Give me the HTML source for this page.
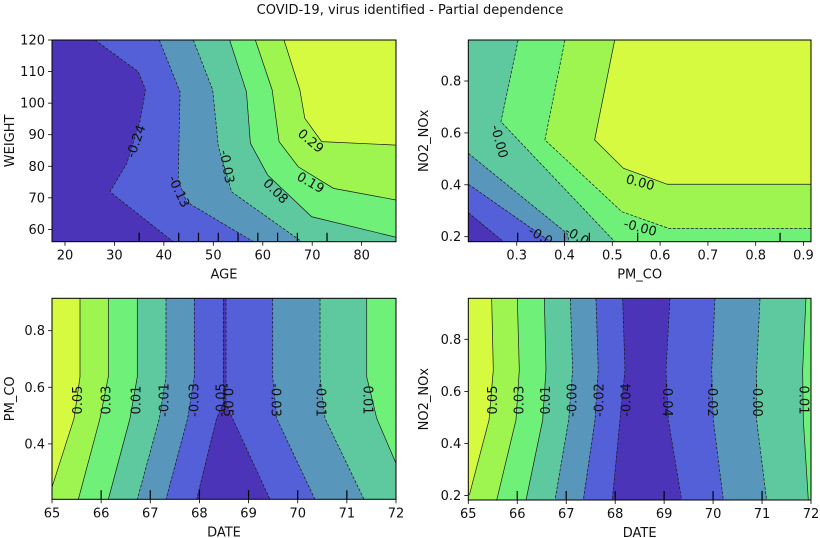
<!DOCTYPE html>
<html><head><meta charset="utf-8">
<style>
html,body{margin:0;padding:0;background:#fff;}
svg{display:block;font-family:"DejaVu Sans","Liberation Sans",sans-serif;}
</style></head>
<body>
<svg id="fig" width="820" height="538" viewBox="0 0 820 538" xmlns="http://www.w3.org/2000/svg">
<text x="410" y="14" text-anchor="middle" font-size="13" fill="#111">COVID-19, virus identified - Partial dependence</text>
</svg>
<script>
// colours for contour bands (low -> high)
const bandColors = ['#4b34b8','#5460d8','#5896bc','#5ec89f','#6ef079','#9ef54f','#d5fa40'];

// ---------- Panel 1: AGE vs WEIGHT ----------
const p1XTicks = [20,30,40,50,60,70,80];
const p1YTicks = [60,70,80,90,100,110,120];
const p1Rug = [35,43,47,51,55,59,63,67,73];
const p1Levels = ['-0.24','-0.13','-0.03','0.08','0.19','0.29'];
const p1Lines = [
  [[26.07,120],[34.83,109.96],[36.3,104.2],[35.2,94.6],[32.5,80.9],[29.1,71.9],[41.9,56.1]],
  [[39.07,120],[43.26,103.6],[42.9,75.6],[44.6,68.7],[58.1,56.1]],
  [[45.95,120],[49.87,104.2],[51.02,86.2],[53.7,71.9],[67.9,56.1]],
  [[53.3,120],[56.7,103.6],[57.5,87.3],[61.0,77.2],[69.9,64.0],[87,57.5]],
  [[58.5,120],[61.9,104.2],[63.3,87.8],[67.2,79.8],[74.3,73.0],[87,69.3]],
  [[64.3,120],[67.5,104.2],[68.5,95.2],[71.9,87.8],[87,86.7]]
];
const p1LabelAt = [[34.5,87.8],[42.9,71.9],[52.6,79.8],[62.5,71.9],[69.6,74.6],[69.6,87.8]];

// ---------- Panel 2: PM_CO vs NO2_NOx ----------
const p2XTicks = [0.3,0.4,0.5,0.6,0.7,0.8,0.9];
const p2YTicks = [0.2,0.4,0.6,0.8];
const p2Rug = [0.302,0.400,0.452,0.553,0.851];
const p2Levels = ['-0.0','-0.0','-0.0','-0.00','-0.00','0.00'];
const p2Lines = [
  [[0.199,0.292],[0.272,0.181]],
  [[0.199,0.402],[0.331,0.232],[0.370,0.181]],
  [[0.199,0.521],[0.405,0.213],[0.410,0.181]],
  [[0.303,0.958],[0.267,0.643],[0.505,0.181]],
  [[0.401,0.958],[0.359,0.573],[0.520,0.296],[0.618,0.232],[0.916,0.232]],
  [[0.505,0.958],[0.463,0.573],[0.523,0.464],[0.615,0.402],[0.916,0.402]]
];
const p2LabelAt = [null,[0.349,0.2],[0.425,0.2],[0.262,0.566],[0.558,0.232],[0.558,0.406]];

// ---------- Panel 3: DATE vs PM_CO ----------
const p3XTicks = [65,66,67,68,69,70,71,72];
const p3YTicks = [0.4,0.6,0.8];
const p3Rug = [66,67,68,69,70,71];
const p3LeftLevels = ['-0.05','-0.03','-0.01','0.01','0.03','0.05'];
const p3LeftLines = [
  [[68.486,0.914],[68.486,0.543],[68.350,0.490],[67.944,0.204]],
  [[67.896,0.914],[67.896,0.637],[67.761,0.490],[67.320,0.204]],
  [[67.320,0.914],[67.320,0.637],[67.184,0.490],[66.736,0.204]],
  [[66.736,0.914],[66.736,0.637],[66.587,0.490],[66.146,0.204]],
  [[66.146,0.914],[66.146,0.637],[65.977,0.490],[65.536,0.204]],
  [[65.570,0.914],[65.570,0.637],[65.448,0.490],[64.993,0.243]]
];
const p3RightLevels = ['-0.05','-0.03','-0.01','0.01'];
const p3RightLines = [
  [[68.541,0.914],[68.541,0.543],[68.690,0.484],[69.436,0.204]],
  [[69.491,0.914],[69.491,0.637],[69.572,0.490],[70.351,0.204]],
  [[70.454,0.914],[70.454,0.637],[70.556,0.490],[71.349,0.204]],
  [[71.404,0.914],[71.404,0.637],[71.608,0.490],[72.0,0.331]]
];
const p3LeftLabelX = [68.46,67.91,67.30,66.73,66.12,65.535];
const p3RightLabelX = [68.56,69.54,70.45,71.41];
const p3LabelY = 0.555;

// ---------- Panel 4: DATE vs NO2_NOx ----------
const p4XTicks = [65,66,67,68,69,70,71,72];
const p4YTicks = [0.2,0.4,0.6,0.8];
const p4Rug = [66,67,68,69,70,71];
const p4LeftLevels = ['-0.04','-0.02','-0.00','0.01','0.03','0.05'];
const p4LeftLines = [
  [[68.153,0.957],[68.201,0.682],[68.098,0.490],[67.942,0.183]],
  [[67.608,0.957],[67.655,0.682],[67.588,0.490],[67.350,0.183]],
  [[67.084,0.957],[67.131,0.682],[67.050,0.490],[66.771,0.183]],
  [[66.553,0.957],[66.587,0.682],[66.519,0.490],[66.179,0.183]],
  [[66.001,0.957],[66.042,0.682],[65.974,0.490],[65.580,0.183]],
  [[65.477,0.957],[65.511,0.682],[65.423,0.490],[65.021,0.202]]
];
const p4RightLevels = ['-0.04','-0.02','-0.00','0.01'];
const p4RightLines = [
  [[69.120,0.957],[69.038,0.682],[69.086,0.490],[69.358,0.183]],
  [[70.039,0.957],[69.971,0.682],[70.005,0.490],[70.209,0.183]],
  [[70.958,0.957],[70.889,0.682],[70.889,0.490],[71.094,0.183]],
  [[71.897,0.957],[71.829,0.682],[71.843,0.490],[71.945,0.183]]
];
const p4LeftLabelX = [68.24,67.69,67.14,66.60,66.06,65.51];
const p4RightLabelX = [69.05,69.97,70.89,71.84];
const p4LabelY = 0.567;

const NS = 'http://www.w3.org/2000/svg';
const svg = document.getElementById('fig');
function mk(tag, attrs, parent){
  const e = document.createElementNS(NS, tag);
  for (const k in attrs) e.setAttribute(k, attrs[k]);
  (parent||svg).appendChild(e);
  return e;
}
function makeScale(d0,d1,r0,r1){ return v => r0 + (v-d0)/(d1-d0)*(r1-r0); }

function panel(cfg){
  const g = mk('g',{});
  
  
  const sx = makeScale(cfg.xd[0],cfg.xd[1],cfg.px[0],cfg.px[1]);
  const sy = makeScale(cfg.yd[0],cfg.yd[1],cfg.py[0],cfg.py[1]);
  const corners = {BL:[cfg.xd[0],cfg.yd[0]],BR:[cfg.xd[1],cfg.yd[0]],TL:[cfg.xd[0],cfg.yd[1]],TR:[cfg.xd[1],cfg.yd[1]]};
  const clipId = cfg.name + '-clip';
  const defs = mk('defs',{},g);
  const cp = mk('clipPath',{id:clipId},defs);
  mk('rect',{x:cfg.px[0],y:cfg.py[1],width:cfg.px[1]-cfg.px[0],height:cfg.py[0]-cfg.py[1]},cp);
  const plot = mk('g',{'clip-path':'url(#'+clipId+')'},g);
  const bg = mk('rect',{x:cfg.px[0],y:cfg.py[1],width:cfg.px[1]-cfg.px[0],height:cfg.py[0]-cfg.py[1],fill:bandColors[cfg.base]},plot);
  
  
  const pts = arr => arr.map(p => sx(p[0]).toFixed(2)+','+sy(p[1]).toFixed(2)).join(' ');
  if (cfg.regions) cfg.regions.forEach(r => {
    const poly = r.line.concat(r.corners.map(c => corners[c]));
    const el = mk('polygon',{points:pts(poly),fill:bandColors[r.color],stroke:bandColors[r.color],'stroke-width':0.5},plot);
    
    
  });
  if (cfg.bands) cfg.bands(corners).forEach(b => {
    const el = mk('polygon',{points:pts(b.poly),fill:bandColors[b.color],stroke:bandColors[b.color],'stroke-width':0.5},plot);
    
    
  });
  cfg.lines.forEach(r => {
    const ln = mk('polyline',{points:pts(r.line),fill:'none',stroke:'#1a1a1a','stroke-width':0.7,'stroke-dasharray':r.dash?'3,1.5':'none'},plot);
    
    
  });
  cfg.lines.forEach(r => {
    if (!r.label) return;
    const x = sx(r.label[0]), y = sy(r.label[1]);
    const t = mk('text',{x:x,y:y,'text-anchor':'middle','dominant-baseline':'central','font-size':13,fill:'#111',transform:'rotate('+r.rot+' '+x+' '+y+')'},plot);
    t.textContent = r.text;
    
    
  });
  cfg.rug.forEach(v => {
    const x = sx(v);
    const rl = mk('line',{x1:x,x2:x,y1:cfg.py[0],y2:cfg.py[0]-9,stroke:'#000','stroke-width':1.2},plot);
    
    
  });
  const fr = mk('rect',{x:cfg.px[0],y:cfg.py[1],width:cfg.px[1]-cfg.px[0],height:cfg.py[0]-cfg.py[1],fill:'none',stroke:'#000','stroke-width':1},g);
  
  
  cfg.xt.forEach(v => {
    const x = sx(v);
    mk('line',{x1:x,x2:x,y1:cfg.py[0],y2:cfg.py[0]+4,stroke:'#000','stroke-width':0.8},g);
    const t = mk('text',{x:x,y:cfg.py[0]+18,'text-anchor':'middle','font-size':13,fill:'#111'},g);
    t.textContent = cfg.xfmt(v);
    
    
  });
  cfg.yt.forEach(v => {
    const y = sy(v);
    mk('line',{x1:cfg.px[0]-4,x2:cfg.px[0],y1:y,y2:y,stroke:'#000','stroke-width':0.8},g);
    const t = mk('text',{x:cfg.px[0]-7,y:y+4.5,'text-anchor':'end','font-size':13,fill:'#111'},g);
    t.textContent = cfg.yfmt(v);
    
    
  });
  const xl = mk('text',{x:(cfg.px[0]+cfg.px[1])/2,y:cfg.py[0]+37,'text-anchor':'middle','font-size':13,fill:'#111'},g);
  xl.textContent = cfg.xlabel;
  
  
  const yc = (cfg.py[0]+cfg.py[1])/2;
  const yl = mk('text',{x:cfg.ylx,y:yc,'text-anchor':'middle','font-size':13,fill:'#111',transform:'rotate(-90 '+cfg.ylx+' '+yc+')'},g);
  yl.textContent = cfg.ylabel;
  
  
}

const f0 = v => String(v);
const f1 = v => v.toFixed(1);

const p1Regions = p1Lines.map((l,i)=>({line:l,corners:(l[l.length-1][0]>=87?['TR']:['BR','TR']),color:i+1,
    dash:p1Levels[i].startsWith('-'),text:p1Levels[i],label:p1LabelAt[i],rot:[-70,65,80,45,30,40][i]}));
panel({name:'pd-age-weight',px:[52,396],py:[241.7,40],xd:[17.37,86.95],yd:[56.1,120],base:0,
  xt:p1XTicks,yt:p1YTicks,rug:p1Rug,xfmt:f0,yfmt:f0,xlabel:'AGE',ylabel:'WEIGHT',ylx:14,
  regions:p1Regions,lines:p1Regions});

const p2Corners = [['BL'],['BL'],['BL'],['BL','TL'],['BR','BL','TL'],['BR','BL','TL']];
const p2Regions = [];
for (let i = p2Lines.length-1; i >= 0; i--) {
  p2Regions.push({line:p2Lines[i],corners:p2Corners[i],color:i,dash:p2Levels[i].startsWith('-'),
    text:p2Levels[i],label:p2LabelAt[i],rot:[30,30,30,75,15,15][i]});
}
panel({name:'pd-pmco-no2nox',px:[468.3,811],py:[241.7,40],xd:[0.1987,0.9157],yd:[0.1807,0.958],base:6,
  xt:p2XTicks,yt:p2YTicks,rug:p2Rug,xfmt:f1,yfmt:f1,xlabel:'PM_CO',ylabel:'NO2_NOx',ylx:428,
  regions:p2Regions,lines:p2Regions});

function bandBuilder(leftLines,rightLines,xmax,ymin){
  return function(corners){
    const seq = leftLines.slice().reverse().concat(rightLines);
    const cols = [];
    for (let i = leftLines.length; i >= 0; i--) cols.push(i);
    for (let i = 1; i <= rightLines.length; i++) cols.push(i);
    const bands = [];
    const first = seq[0];
    bands.push({color:cols[0],poly:[corners.TL,corners.BL].concat(first.slice().reverse())});
    for (let k = 0; k < seq.length-1; k++) {
      const A = seq[k], B = seq[k+1];
      const aEnd = A[A.length-1], bEnd = B[B.length-1];
      let poly = A.slice();
      if (aEnd[1] > ymin + 0.005 && aEnd[0] < xmax - 0.5) poly.push(corners.BL);
      if (bEnd[0] >= xmax - 0.005 && aEnd[0] < xmax - 0.005) poly.push(corners.BR);
      poly = poly.concat(B.slice().reverse());
      bands.push({color:cols[k+1],poly:poly});
    }
    const last = seq[seq.length-1];
    let lp = last.slice();
    if (last[last.length-1][0] < xmax - 0.005) lp.push(corners.BR);
    lp.push(corners.TR);
    bands.push({color:cols[cols.length-1],poly:lp});
    return bands;
  };
}
function lineSpecs(leftLines,leftLevels,leftX,rightLines,rightLevels,rightX,ly){
  const specs = [];
  leftLines.forEach((l,i)=>specs.push({line:l,dash:leftLevels[i].startsWith('-'),text:leftLevels[i],label:[leftX[i],ly],rot:-90}));
  rightLines.forEach((l,i)=>specs.push({line:l,dash:rightLevels[i].startsWith('-'),text:rightLevels[i],label:[rightX[i],ly],rot:90}));
  return specs;
}
panel({name:'pd-date-pmco',px:[52,396],py:[499.3,298.3],xd:[65,72],yd:[0.2042,0.9145],base:0,
  xt:p3XTicks,yt:p3YTicks,rug:p3Rug,xfmt:f0,yfmt:f1,xlabel:'DATE',ylabel:'PM_CO',ylx:14,
  bands:bandBuilder(p3LeftLines,p3RightLines,72,0.2042),
  lines:lineSpecs(p3LeftLines,p3LeftLevels,p3LeftLabelX,p3RightLines,p3RightLevels,p3RightLabelX,p3LabelY)});
panel({name:'pd-date-no2nox',px:[468.3,811],py:[500,298.3],xd:[65,72],yd:[0.1831,0.9574],base:0,
  xt:p4XTicks,yt:p4YTicks,rug:p4Rug,xfmt:f0,yfmt:f1,xlabel:'DATE',ylabel:'NO2_NOx',ylx:428,
  bands:bandBuilder(p4LeftLines,p4RightLines,72,0.1831),
  lines:lineSpecs(p4LeftLines,p4LeftLevels,p4LeftLabelX,p4RightLines,p4RightLevels,p4RightLabelX,p4LabelY)});
</script>
</body></html>
